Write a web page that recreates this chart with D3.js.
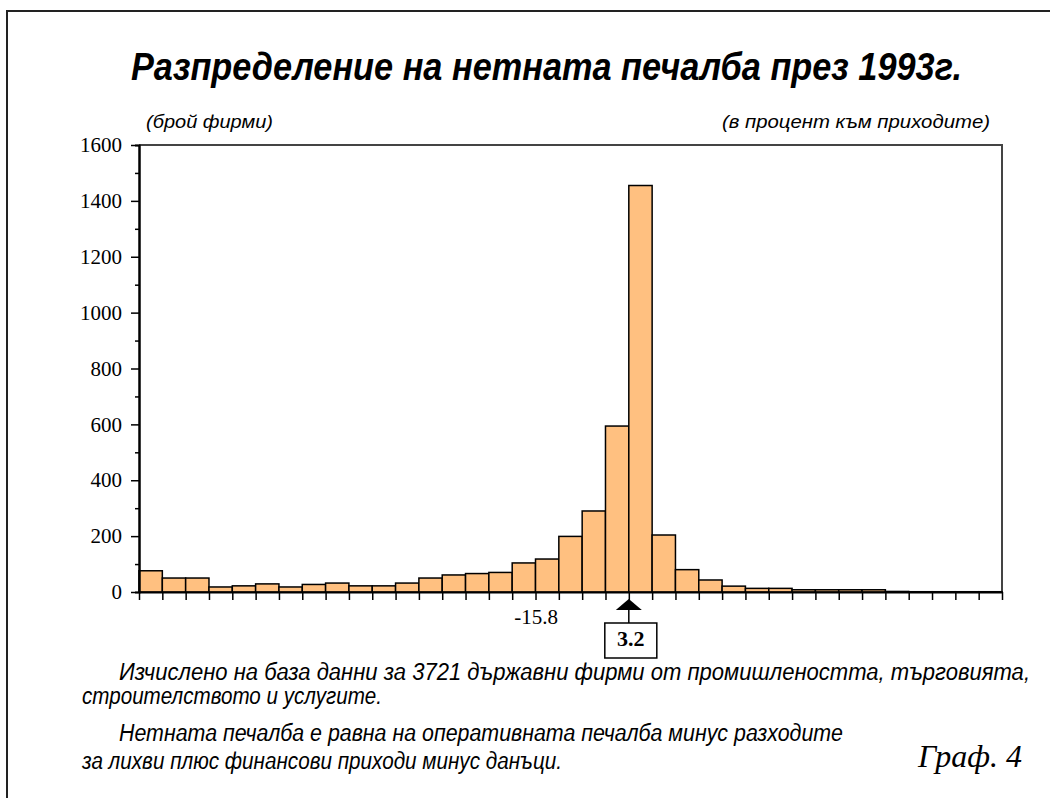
<!DOCTYPE html>
<html>
<head>
<meta charset="utf-8">
<script src="https://cdn.jsdelivr.net/npm/d3@7.9.0/dist/d3.min.js"></script>
<style>
  body { margin: 0; background: #fff; }
  svg { display: block; }
  .serif { font-family: "Liberation Serif", "Times New Roman", serif; }
  .sans { font-family: "Liberation Sans", Arial, sans-serif; }
</style>
</head>
<body>
<svg id="chart" width="1050" height="798"></svg>
<script>
// Data: number of firms per profit bin
const binCounts = [76, 50, 50, 18, 22, 29, 18, 27, 32, 22, 22, 32, 50, 61, 66, 70, 104, 118,
                   199, 290, 594, 1455, 204, 80, 43, 21, 13, 13, 8, 8, 8, 8, 2, 1, 1, 1, 1];
const yMajorTicks = [0, 200, 400, 600, 800, 1000, 1200, 1400, 1600];
const yMinorTicks = [100, 300, 500, 700, 900, 1100, 1300, 1500];
// labelled bin edges on the x axis
const edgeLabels = [{ edge: 17, text: "-15.8" }];
const markedEdge = { edge: 21, text: "3.2" };

const titleText = "Разпределение на нетната печалба през 1993г.";
const yUnitText = "(брой фирми)";
const xUnitText = "(в процент към приходите)";
const noteLines = [
    "Изчислено на база данни за 3721 държавни фирми от промишлеността, търговията,",
    "строителството и услугите.",
    "Нетната печалба е равна на оперативната печалба минус разходите",
    "за лихви плюс финансови приходи минус данъци."
];
const figureLabel = "Граф. 4";

const svg = d3.select('#chart');

// 1. Frame around the page (top and left only are visible)
svg.append('path')
    .attr('d', 'M7,800 V11 H1052')
    .attr('fill', 'none')
    .attr('stroke', '#222')
    .attr('stroke-width', 2);

// 2. Scales
const plot = { left: 139, right: 1002, top: 145, bottom: 592 };
const x = d3.scaleLinear().domain([0, binCounts.length]).range([plot.left, plot.right]);
const y = d3.scaleLinear().domain([0, 1600]).range([plot.bottom, plot.top]);

// 3. Plot box (top + right sides)
svg.append('path')
    .attr('d', `M${plot.left},${plot.top} H${plot.right} V${plot.bottom}`)
    .attr('fill', 'none')
    .attr('stroke', '#444')
    .attr('stroke-width', 2);

// 4. Bars
svg.append('g')
    .selectAll('rect')
    .data(binCounts)
    .join('rect')
    .attr('x', (d, i) => x(i))
    .attr('width', (d, i) => x(i + 1) - x(i))
    .attr('y', d => y(d))
    .attr('height', d => y(0) - y(d))
    .attr('fill', '#ffc080')
    .attr('stroke', '#000')
    .attr('stroke-width', 1.5);

// 5. Axes
const yMinor = svg.append('g')
    .attr('transform', `translate(${plot.left},0)`)
    .call(d3.axisLeft(y).tickValues(yMinorTicks).tickSize(4).tickFormat(''));
const yAxis = svg.append('g')
    .attr('transform', `translate(${plot.left},0)`)
    .call(d3.axisLeft(y).tickValues(yMajorTicks).tickSize(8).tickSizeOuter(0).tickPadding(9)
        .tickFormat(d3.format('d')));

const labelByEdge = new Map(edgeLabels.map(d => [d.edge, d.text]));
const xAxis = svg.append('g')
    .attr('transform', `translate(0,${plot.bottom})`)
    .call(d3.axisBottom(x)
        .tickValues(d3.range(binCounts.length + 1))
        .tickSize(8).tickSizeOuter(0).tickPadding(9)
        .tickFormat(i => labelByEdge.get(i) || ''));

[yAxis, xAxis, yMinor].forEach(g => {
    g.selectAll('path.domain').attr('stroke', '#000').attr('stroke-width', 2);
    g.selectAll('.tick line').attr('stroke', '#000').attr('stroke-width', 1.5);
    g.selectAll('text')
        .attr('font-size', 21).attr('fill', '#000')
        .attr('font-family', '"Liberation Serif", "Times New Roman", serif');
});

// 6. Marker for the median edge (arrow + boxed label)
const mx = x(markedEdge.edge);
const marker = svg.append('g');
marker.append('path')
    .attr('d', `M${mx},${plot.bottom + 7} L${mx + 13},${plot.bottom + 18} L${mx - 13},${plot.bottom + 18} Z`)
    .attr('fill', '#000');
marker.append('line')
    .attr('x1', mx).attr('x2', mx)
    .attr('y1', plot.bottom + 18).attr('y2', plot.bottom + 31)
    .attr('stroke', '#000').attr('stroke-width', 1.5);
marker.append('rect')
    .attr('x', mx - 24).attr('y', plot.bottom + 31)
    .attr('width', 52).attr('height', 35)
    .attr('fill', '#fff').attr('stroke', '#000').attr('stroke-width', 1.5);
marker.append('text')
    .attr('class', 'serif')
    .attr('x', mx + 2).attr('y', plot.bottom + 54)
    .attr('text-anchor', 'middle')
    .attr('font-size', 22).attr('font-weight', 'bold')
    .text(markedEdge.text);

// 7. Titles and notes (condensed look via textLength)
svg.append('text')
    .attr('class', 'sans')
    .attr('x', 131).attr('y', 80)
    .attr('font-size', 38).attr('font-weight', 'bold').attr('font-style', 'italic')
    .attr('textLength', 831).attr('lengthAdjust', 'spacingAndGlyphs')
    .text(titleText);

svg.append('text')
    .attr('class', 'sans')
    .attr('x', 146).attr('y', 128)
    .attr('font-size', 19).attr('font-style', 'italic')
    .attr('textLength', 127).attr('lengthAdjust', 'spacingAndGlyphs')
    .text(yUnitText);

svg.append('text')
    .attr('class', 'sans')
    .attr('x', 722).attr('y', 128)
    .attr('font-size', 19).attr('font-style', 'italic')
    .attr('textLength', 268).attr('lengthAdjust', 'spacingAndGlyphs')
    .text(xUnitText);

const notePos = [
    { x: 119, y: 680, w: 911 },
    { x: 82, y: 704, w: 300 },
    { x: 119, y: 741, w: 724 },
    { x: 82, y: 769, w: 480 }
];
svg.append('g')
    .selectAll('text')
    .data(noteLines)
    .join('text')
    .attr('class', 'sans')
    .attr('x', (d, i) => notePos[i].x)
    .attr('y', (d, i) => notePos[i].y)
    .attr('font-size', 23).attr('font-style', 'italic')
    .attr('textLength', (d, i) => notePos[i].w)
    .attr('lengthAdjust', 'spacingAndGlyphs')
    .text(d => d);

svg.append('text')
    .attr('class', 'serif')
    .attr('x', 918).attr('y', 767)
    .attr('font-size', 32).attr('font-style', 'italic')
    .text(figureLabel);
</script>
</body>
</html>
